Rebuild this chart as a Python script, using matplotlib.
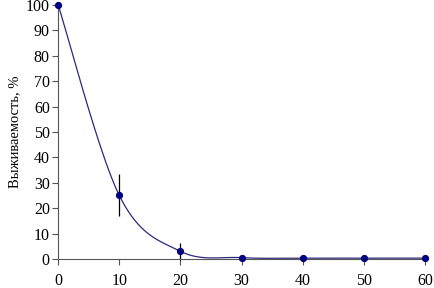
import numpy as np
import matplotlib.pyplot as plt

# data
days = [0, 10, 20, 30, 40, 50, 60]
survival = [100, 25, 3, 0.5, 0.3, 0.3, 0.3]
errors = [0, 8.3, 3.3, 0, 0, 0, 0]


def smooth_line(x, y, n=40):
    # Catmull-Rom style smoothing, like a spreadsheet "smoothed line"
    x = np.asarray(x, float)
    y = np.asarray(y, float)
    px = np.concatenate([[x[0]], x, [x[-1]]])
    py = np.concatenate([[y[0]], y, [y[-1]]])
    xs, ys = [], []
    for i in range(1, len(px) - 2):
        p0 = np.array([px[i - 1], py[i - 1]])
        p1 = np.array([px[i], py[i]])
        p2 = np.array([px[i + 1], py[i + 1]])
        p3 = np.array([px[i + 2], py[i + 2]])
        c1 = p1 + (p2 - p0) / 6
        c2 = p2 - (p3 - p1) / 6
        t = np.linspace(0, 1, n)[:, None]
        b = ((1 - t) ** 3) * p1 + 3 * ((1 - t) ** 2) * t * c1 + 3 * (1 - t) * t ** 2 * c2 + t ** 3 * p2
        xs.extend(b[:, 0])
        ys.extend(b[:, 1])
    return np.array(xs), np.array(ys)


plt.rcParams['font.family'] = ['Liberation Serif', 'DejaVu Serif']

fig = plt.figure(figsize=(4.34, 2.88), dpi=100)
ax = fig.add_axes([0.134, 0.101, 0.845, 0.882])

sx, sy = smooth_line(days, survival)
ax.plot(sx, sy, color='#2a2a78', lw=0.9, clip_on=False)
ax.errorbar(days, survival, yerr=errors, fmt='none', ecolor='black', elinewidth=0.9, capsize=0, clip_on=False)
ax.plot(days, survival, 'o', color='#000080', ms=4.2, clip_on=False, zorder=5)

ax.set_xlim(0, 60)
ax.set_ylim(0, 100)
ax.set_xticks(range(0, 61, 10))
ax.set_yticks(range(0, 101, 10))
ax.set_ylabel('Выживаемость, %', fontsize=10.5, labelpad=3)
ax.tick_params(labelsize=11.5, direction='out', length=4, width=0.8, color='#555555')
for s in ['top', 'right']:
    ax.spines[s].set_visible(False)
for s in ['left', 'bottom']:
    ax.spines[s].set_color('#555555')
    ax.spines[s].set_linewidth(0.8)
ax.tick_params(axis='x', pad=6)
ax.tick_params(axis='y', pad=2)

fig.savefig('out.png', dpi=100)
